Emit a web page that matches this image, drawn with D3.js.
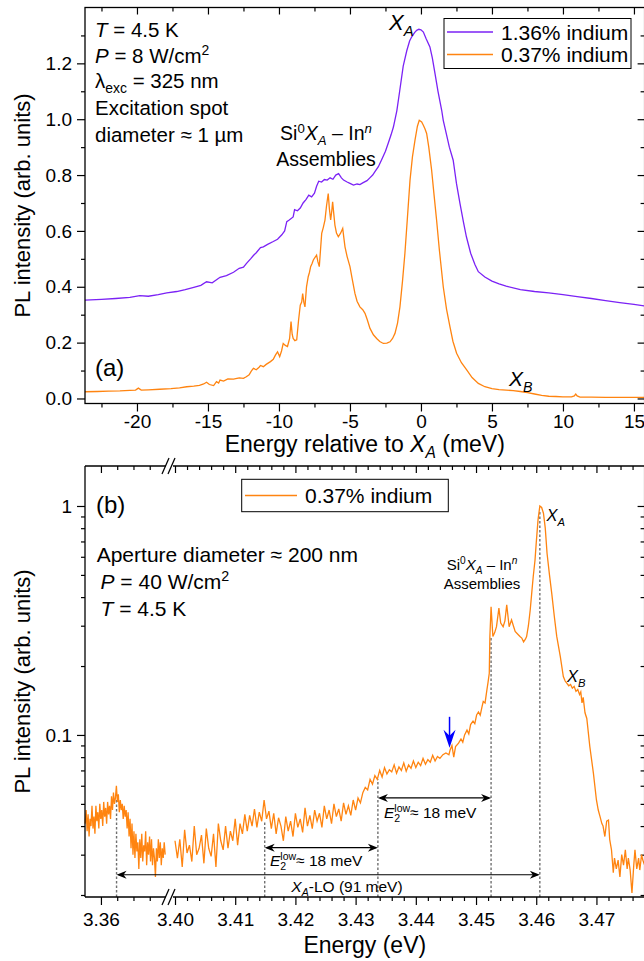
<!DOCTYPE html>
<html>
<head>
<meta charset="utf-8">
<script src="https://cdn.jsdelivr.net/npm/d3@7"></script>
<style>
  body { margin: 0; background: #fff; }
  svg { font-family: "Liberation Sans", Arial, Helvetica, sans-serif; }
</style>
</head>
<body>
<div id="chart"></div>
<script>

// ---- panel (a): [energy relative to X_A (meV), PL intensity] ----
var specA136 = [[-23.66,.352],[-22.5,.355],[-21.5,.358],[-20.5,.362],[-19.8,.368],[-19.2,.366],[-18.5,.372],[-17.9,.378],
  [-17.2,.383],[-16.6,.390],[-16.0,.398],[-15.5,.405],[-15.1,.418],[-14.7,.414],[-14.15,.434],[-13.7,.440],[-13.2,.452],
  [-12.8,.466],[-12.5,.470],[-12.3,.483],[-12.0,.500],[-11.8,.512],[-11.6,.522],[-11.3,.540],[-11.1,.543],[-10.8,.552],
  [-10.4,.562],[-10.1,.570],[-9.8,.586],[-9.6,.600],[-9.45,.633],[-9.3,.638],[-9.0,.650],[-8.9,.676],[-8.7,.672],
  [-8.5,.682],[-8.3,.700],[-8.1,.712],[-7.9,.728],[-7.7,.722],[-7.5,.735],[-7.35,.760],[-7.2,.778],[-7.0,.775],
  [-6.8,.784],[-6.6,.782],[-6.4,.790],[-6.2,.785],[-6.0,.800],[-5.8,.805],[-5.6,.790],[-5.45,.782],[-5.2,.775],
  [-5.0,.770],[-4.75,.764],[-4.5,.768],[-4.3,.766],[-4.1,.772],[-3.8,.780],[-3.6,.790],[-3.4,.800],[-3.24,.812],
  [-3.0,.830],[-2.77,.855],[-2.5,.885],[-2.3,.915],[-2.1,.945],[-1.94,.972],[-1.7,1.03],[-1.5,1.10],[-1.25,1.19],
  [-1.0,1.245],[-0.8,1.28],[-0.65,1.295],[-0.45,1.31],[-0.3,1.318],[-0.15,1.322],[0.0,1.32],[0.17,1.312],[0.35,1.29],
  [0.63,1.259],[0.8,1.22],[0.99,1.163],[1.2,1.10],[1.46,1.032],[1.57,.996],[1.8,.945],[2.0,.90],[2.27,.853],[2.5,.77],
  [2.75,.698],[3.0,.63],[3.2,.579],[3.5,.52],[3.8,.48],[4.04,.454],[4.5,.435],[5.0,.42],[5.5,.41],[6.0,.402],[7.0,.39],
  [8.0,.383],[9.0,.378],[10.0,.372],[11.0,.365],[12.0,.358],[13.0,.350],[14.0,.343],[15.0,.337],[15.8,.331]];

var specA037 = [[-23.66,.024],[-22.8,.025],[-22,.026],[-21.2,.027],[-20.5,.029],[-20.1,.030],[-19.9,.037],[-19.7,.030],
  [-19.2,.031],[-18.4,.033],[-17.6,.035],[-17,.038],[-16.5,.042],[-16,.044],[-15.6,.047],[-15.3,.052],[-15.1,.058],
  [-14.9,.050],[-14.6,.046],[-14.4,.060],[-14.25,.055],[-14.15,.066],[-13.9,.062],[-13.6,.070],[-13.2,.069],[-12.8,.074],
  [-12.5,.072],[-12.3,.078],[-12.1,.085],[-11.95,.098],[-11.8,.108],[-11.6,.103],[-11.4,.112],[-11.3,.118],[-11.1,.114],
  [-10.9,.122],[-10.6,.132],[-10.4,.140],[-10.25,.155],[-10.1,.167],[-9.95,.150],[-9.82,.170],[-9.7,.197],[-9.55,.190],
  [-9.4,.186],[-9.25,.215],[-9.15,.275],[-9.07,.230],[-9.0,.215],[-8.88,.207],[-8.75,.210],[-8.62,.280],[-8.5,.334],
  [-8.4,.345],[-8.33,.376],[-8.25,.345],[-8.17,.328],[-8.06,.400],[-7.94,.436],[-7.85,.452],[-7.77,.472],[-7.66,.484],
  [-7.58,.496],[-7.46,.505],[-7.35,.513],[-7.26,.490],[-7.16,.472],[-7.07,.535],[-6.99,.591],[-6.88,.612],[-6.76,.639],
  [-6.65,.690],[-6.53,.734],[-6.45,.680],[-6.36,.639],[-6.28,.672],[-6.22,.704],[-6.14,.662],[-6.06,.621],[-5.95,.592],
  [-5.82,.579],[-5.66,.592],[-5.51,.609],[-5.43,.575],[-5.35,.543],[-5.2,.508],[-5.0,.472],[-4.85,.430],[-4.65,.376],
  [-4.5,.348],[-4.3,.328],[-4.1,.318],[-3.94,.305],[-3.78,.282],[-3.59,.251],[-3.35,.228],[-3.12,.215],[-2.9,.204],
  [-2.65,.197],[-2.4,.198],[-2.18,.203],[-2.0,.215],[-1.83,.233],[-1.65,.270],[-1.48,.328],[-1.3,.420],[-1.13,.520],
  [-.95,.650],[-.77,.782],[-.6,.865],[-.42,.925],[-.25,.975],[-.12,.996],[.05,.990],[.16,.979],[.28,.966],[.4,.949],
  [.55,.900],[.75,.818],[.92,.730],[1.1,.639],[1.3,.530],[1.57,.400],[1.8,.320],[2.04,.257],[2.25,.205],[2.51,.162],
  [2.85,.128],[3.22,.102],[3.6,.075],[4.04,.054],[4.5,.042],[5,.035],[5.5,.032],[6,.030],[6.5,.028],[7,.025],[7.5,.021],
  [8,.016],[8.5,.011],[9,.008],[9.5,.007],[10,.006],[10.6,.006],[10.8,.009],[10.9,.016],[11.0,.009],[11.2,.005],
  [12,.005],[13,.004],[14,.004],[15,.004],[15.8,.004]];

// ---- panel (b): [energy (eV), PL intensity], before and after the axis break ----
var specBLeft = [[3.3503,.041],[3.3509,.047],[3.3515,.038],[3.3521,.045],[3.3527,.036],[3.3533,.043],[3.3539,.040],
  [3.3545,.049],[3.3551,.039],[3.3557,.044],[3.3563,.037],[3.3569,.049],[3.3575,.042],[3.3581,.046],[3.3587,.039],
  [3.3593,.050],[3.3599,.043],[3.3605,.047],[3.3611,.040],[3.3617,.051],[3.3623,.044],[3.3629,.048],[3.3635,.041],
  [3.3641,.051],[3.3647,.045],[3.3653,.049],[3.3659,.043],[3.3665,.054],[3.3671,.047],[3.3677,.056],[3.3683,.050],
  [3.3689,.053],[3.3695,.060],[3.3701,.051],[3.3707,.055],[3.3713,.046],[3.3719,.052],[3.3725,.047],[3.3731,.050],
  [3.3737,.043],[3.3743,.049],[3.3749,.044],[3.3755,.047],[3.3761,.039],[3.3767,.046],[3.3773,.036],[3.3779,.043],
  [3.3785,.032],[3.3791,.041],[3.3797,.030],[3.3803,.038],[3.3809,.029],[3.3815,.037],[3.3821,.031],[3.3827,.034],
  [3.3833,.026],[3.3839,.035],[3.3845,.029],[3.3851,.037],[3.3857,.028],[3.3863,.033],[3.3869,.031],[3.3875,.038],
  [3.3881,.027],[3.3887,.034],[3.3893,.030],[3.3899,.036],[3.3905,.028],[3.3911,.035],[3.3917,.027],[3.3923,.032],
  [3.3929,.029],[3.3935,.024],[3.3941,.032],[3.3947,.028],[3.3953,.035],[3.3959,.029],[3.3965,.034],[3.3971,.027],
  [3.3977,.032],[3.3983,.029],[3.3989,.034],[3.3995,.030]];

var specBRight = [[3.4000,.0345],[3.4004,.0290],[3.4008,.0350],[3.4012,.0265],[3.4016,.0385],[3.4020,.0305],
  [3.4024,.0330],[3.4028,.0280],[3.4032,.0400],[3.4036,.0300],[3.4040,.0320],[3.4044,.0365],[3.4048,.0275],
  [3.4052,.0390],[3.4056,.0320],[3.4060,.0295],[3.4064,.0370],[3.4068,.0265],[3.4072,.0410],[3.4076,.0345],
  [3.4080,.0315],[3.4084,.0400],[3.4088,.0320],[3.4092,.0380],[3.4096,.0345],[3.4100,.0430],[3.4104,.0330],
  [3.4108,.0410],[3.4112,.0370],[3.4116,.0450],[3.4120,.0380],[3.4124,.0445],[3.4128,.0400],[3.4132,.0475],
  [3.4136,.0395],[3.4140,.0460],[3.4144,.0420],[3.4148,.0520],[3.4152,.0430],[3.4156,.0465],[3.4160,.0390],
  [3.4164,.0455],[3.4168,.0370],[3.4172,.0435],[3.4176,.0400],[3.4180,.0345],[3.4184,.0440],[3.4188,.0380],
  [3.4192,.0420],[3.4196,.0360],[3.4200,.0455],[3.4204,.0395],[3.4208,.0430],[3.4212,.0375],[3.4216,.0480],
  [3.4220,.0400],[3.4224,.0445],[3.4228,.0390],[3.4232,.0470],[3.4236,.0420],[3.4240,.0455],[3.4244,.0395],
  [3.4248,.0490],[3.4252,.0430],[3.4256,.0470],[3.4260,.0410],[3.4264,.0500],[3.4268,.0440],[3.4272,.0475],
  [3.4276,.0420],[3.4280,.0505],[3.4284,.0450],[3.4288,.0490],[3.4292,.0445],[3.4296,.0520],[3.4300,.0470],
  [3.4304,.0530],[3.4308,.0505],[3.4312,.0560],[3.4316,.0590],[3.4320,.0575],[3.4324,.0640],[3.4328,.0610],
  [3.4332,.0665],[3.4336,.0640],[3.4340,.0700],[3.4344,.0655],[3.4348,.0720],[3.4352,.0675],[3.4356,.0705],
  [3.4360,.0690],[3.4364,.0740],[3.4368,.0680],[3.4372,.0725],[3.4376,.0700],[3.4380,.0755],[3.4384,.0695],
  [3.4388,.0740],[3.4392,.0715],[3.4396,.0770],[3.4400,.0720],[3.4404,.0760],[3.4408,.0735],[3.4412,.0790],
  [3.4416,.0745],[3.4420,.0780],[3.4424,.0760],[3.4428,.0815],[3.4432,.0770],[3.4436,.0805],[3.4440,.0790],
  [3.4445,.0820],[3.4450,.0835],[3.4455,.0820],[3.4457,.0860],[3.4460,.0900],[3.4463,.0800],[3.4466,.0890],
  [3.4471,.0921],[3.4475,.0960],[3.4478,.0930],[3.4481,.1000],[3.4485,.1050],[3.4488,.1010],[3.4491,.1110],
  [3.4495,.1150],[3.4498,.1120],[3.4501,.1223],[3.4504,.1260],[3.4507,.1220],[3.4510,.1330],[3.4512,.1400],
  [3.4515,.1380],[3.4518,.1570],[3.4520,.1700],[3.4522,.1860],[3.4523,.2690],[3.4525,.3630],[3.4528,.2690],
  [3.4531,.2800],[3.4534,.2970],[3.4538,.3580],[3.4541,.3080],[3.4545,.2970],[3.4548,.3150],[3.4551,.3700],
  [3.4555,.2970],[3.4559,.3180],[3.4562,.3000],[3.4565,.2830],[3.4569,.2760],[3.4573,.2690],[3.4576,.2650],
  [3.4579,.2550],[3.4582,.2620],[3.4584,.2690],[3.4587,.3000],[3.4590,.3515],[3.4593,.4300],[3.4595,.4910],
  [3.4598,.5810],[3.4600,.6900],[3.4603,.8700],[3.4606,1.000],[3.4609,.985],[3.4612,.930],[3.4615,.800],[3.4618,.620],
  [3.4622,.500],[3.4626,.410],[3.4630,.330],[3.4634,.270],[3.4640,.220],[3.4645,.180],[3.4648,.172],[3.4651,.168],
  [3.4654,.164],[3.4657,.166],[3.4660,.160],[3.4663,.163],[3.4666,.155],[3.4669,.158],[3.4672,.150],[3.4674,.154],
  [3.4676,.138],[3.4678,.146],[3.4681,.125],[3.4684,.118],[3.4689,.089],[3.4695,.068],[3.4700,.052],[3.4703,.047],
  [3.4706,.044],[3.4709,.041],[3.4711,.040],[3.4714,.036],[3.4717,.042],[3.4720,.0425],[3.4722,.035],[3.4725,.0315],
  [3.4728,.025],[3.4730,.029],[3.4733,.026],[3.4736,.0284],[3.4739,.024],[3.4742,.030],[3.4745,.027],[3.4748,.0315],
  [3.4751,.026],[3.4753,.029],[3.4756,.0257],[3.4759,.0204],[3.4762,.027],[3.4764,.0315],[3.4767,.026],[3.4770,.029],
  [3.4772,.0257],[3.4775,.030],[3.4777,.0284],[3.4780,.027]];

// dotted markers in (b): energy and the intensity where each line stops
var markE = [3.3696, 3.4149, 3.4337, 3.4525, 3.4606];
var markTop = [0.052, 0.042, 0.064, 0.27, 0.95];
// double arrows in (b): [from, to, intensity level]
var spans = [[3.3696, 3.4606, 0.0245], [3.4149, 3.4337, 0.0322], [3.4337, 3.4525, 0.0531]];

var legendA = ["1.36% indium", "0.37% indium"];
var legendB = ["0.37% indium"];
var ticksAx = [-20, -15, -10, -5, 0, 5, 10, 15];
var minorAx = [-22.5, -17.5, -12.5, -7.5, -2.5, 2.5, 7.5, 12.5];
var ticksAy = [0, 0.2, 0.4, 0.6, 0.8, 1.0, 1.2];
var minorAy = [0.1, 0.3, 0.5, 0.7, 0.9, 1.1, 1.3];
var ticksBxL = [3.36], minorBxL = [3.37, 3.38, 3.39];
var ticksBxR = [3.40, 3.41, 3.42, 3.43, 3.44, 3.45, 3.46, 3.47];
var ticksBy = [0.1, 1];
var minorBy = [0.02,0.03,0.04,0.05,0.06,0.07,0.08,0.09,0.2,0.3,0.4,0.5,0.6,0.7,0.8,0.9];

var purple = "#7b22f5", orange = "#ff8410";

var W = 644, H = 961;
var svg = d3.select("#chart").append("svg").attr("width", W).attr("height", H);

// ---- scales ----
var xA = d3.scaleLinear().domain([-23.66, 15.75]).range([85, 644.6]);
var yA = d3.scaleLinear().domain([-0.018, 1.4]).range([403.5, 7.5]);
var xL = d3.scaleLinear().domain([3.3502, 3.40]).range([85, 166]);
var xR = d3.scaleLinear().domain([3.40, 3.478]).range([175, 644.6]);
var yB = d3.scaleLog().domain([0.0196, 1.495]).range([897, 466]);
function xb(e) { return e < 3.40 ? xL(e) : xR(e); }

function axis(gen, scale, tr, values, size, fmt, pad) {
    var a = gen(scale).tickValues(values).tickSizeInner(size).tickSizeOuter(0)
        .tickPadding(pad || 4).tickFormat(fmt || function() { return ""; });
    var g = svg.append("g").attr("transform", tr).call(a);
    g.select(".domain").remove();
    g.attr("font-size", 19).attr("font-family", null);
    g.selectAll("line").attr("stroke", "#000").attr("stroke-width", 1.2);
    g.selectAll("text").attr("fill", "#000");
    return g;
}

function rich(x, y, size, parts, anchor) {
    var t = svg.append("text").attr("x", x).attr("y", y)
        .attr("font-size", size).attr("text-anchor", anchor || "start");
    var shift = 0;
    parts.forEach(function(p) {
        var st = p[1] || "", s = 0, fs = size;
        if (st.indexOf("b") >= 0) { s = size * 0.28; fs = size * 0.68; }
        if (st.indexOf("p") >= 0) { s = -size * 0.38; fs = size * 0.68; }
        var sp = t.append("tspan").attr("dy", s - shift).attr("font-size", fs).text(p[0]);
        if (st.indexOf("i") >= 0) sp.attr("font-style", "italic");
        if (p[2]) sp.attr("dx", p[2]);
        shift = s;
    });
    return t;
}

var str = function(d) { return String(d); };
var minorBxR = d3.range(3.402, 3.478, 0.002).filter(function(v) {
    return Math.abs(v * 100 - Math.round(v * 100)) > 0.05; });

// ================= panel (a) =================
axis(d3.axisBottom, xA, "translate(0,403.5)", ticksAx, 8, str, 3);
axis(d3.axisBottom, xA, "translate(0,403.5)", minorAx, 4);
axis(d3.axisTop, xA, "translate(0,7.5)", ticksAx, -7);
axis(d3.axisTop, xA, "translate(0,7.5)", minorAx, -4);
axis(d3.axisLeft, yA, "translate(85,0)", ticksAy, 8, function(d) { return d.toFixed(1); }, 5);
axis(d3.axisLeft, yA, "translate(85,0)", minorAy, 4);
axis(d3.axisRight, yA, "translate(644.6,0)", ticksAy, -7);
axis(d3.axisRight, yA, "translate(644.6,0)", minorAy, -4);

var lineA = d3.line().x(function(d) { return xA(d[0]); }).y(function(d) { return yA(d[1]); });
svg.append("path").datum(specA136).attr("d", lineA)
    .attr("fill", "none").attr("stroke", purple).attr("stroke-width", 1.3);
svg.append("path").datum(specA037).attr("d", lineA)
    .attr("fill", "none").attr("stroke", orange).attr("stroke-width", 1.3);

svg.append("rect").attr("x", 85).attr("y", 7.5).attr("width", 559.6).attr("height", 396)
    .attr("fill", "none").attr("stroke", "#000").attr("stroke-width", 1.3);

// legend (a)
svg.append("rect").attr("x", 444).attr("y", 18.5).attr("width", 187).attr("height", 50)
    .attr("fill", "#fff").attr("stroke", "#000").attr("stroke-width", 1);
legendA.forEach(function(name, i) {
    var ly = 32 + i * 22.5;
    svg.append("line").attr("x1", 447).attr("x2", 493).attr("y1", ly).attr("y2", ly)
        .attr("stroke", i === 0 ? purple : orange).attr("stroke-width", 1.3);
    svg.append("text").attr("x", 501).attr("y", ly + 7.5).attr("font-size", 21).text(name);
});

rich(95, 36.7, 20.5, [["T", "i"], [" = 4.5 K"]]);
rich(95, 62.7, 20.5, [["P", "i"], [" = 8 W/cm"], ["2", "p"]]);
rich(95, 87.5, 20.5, [["λ"], ["exc", "b"], [" = 325 nm"]]);
rich(95, 115, 20.5, [["Excitation spot"]]);
rich(95, 141.7, 20.5, [["diameter ≈ 1 µm"]]);
rich(326, 140, 19.5, [["Si"], ["0", "p"], ["X", "i"], ["A", "ib"], [" – In"], ["n", "ip"]], "middle");
rich(326, 166, 19.5, [["Assemblies"]], "middle");
rich(389, 30, 22, [["X", "i"], ["A", "ib"]]);
rich(509, 386, 21, [["X", "i"], ["B", "ib"]]);
svg.append("text").attr("x", 95).attr("y", 376).attr("font-size", 24).text("(a)");

rich(364.8, 452, 23, [["Energy relative to "], ["X", "i"], ["A", "ib"], [" (meV)"]], "middle");
svg.append("text").attr("transform", "translate(30,205.5) rotate(-90)")
    .attr("text-anchor", "middle").attr("font-size", 22).text("PL intensity (arb. units)");

// ================= panel (b) =================
axis(d3.axisBottom, xL, "translate(0,897)", ticksBxL, 8, function(d) { return d.toFixed(2); }, 7.5);
axis(d3.axisBottom, xL, "translate(0,897)", minorBxL, 4);
axis(d3.axisBottom, xR, "translate(0,897)", ticksBxR, 8, function(d) { return d.toFixed(2); }, 7.5);
axis(d3.axisBottom, xR, "translate(0,897)", minorBxR, 4);
axis(d3.axisTop, xL, "translate(0,466)", ticksBxL, -7);
axis(d3.axisTop, xL, "translate(0,466)", minorBxL, -4);
axis(d3.axisTop, xR, "translate(0,466)", ticksBxR, -7);
axis(d3.axisTop, xR, "translate(0,466)", minorBxR, -4);
axis(d3.axisLeft, yB, "translate(85,0)", ticksBy, 8, str, 5);
axis(d3.axisLeft, yB, "translate(85,0)", minorBy, 4);
axis(d3.axisRight, yB, "translate(644.6,0)", ticksBy, -7);
axis(d3.axisRight, yB, "translate(644.6,0)", minorBy, -4);

// dotted guide lines
markE.forEach(function(e, i) {
    svg.append("line").attr("x1", xb(e)).attr("x2", xb(e)).attr("y1", 897).attr("y2", yB(markTop[i]))
        .attr("stroke", "#707070").attr("stroke-width", 1.4).attr("stroke-dasharray", "2.5,2");
});

var lineBL = d3.line().x(function(d) { return xL(d[0]); }).y(function(d) { return yB(d[1]); });
var lineBR = d3.line().x(function(d) { return xR(d[0]); }).y(function(d) { return yB(d[1]); });
svg.append("path").datum(specBLeft).attr("d", lineBL)
    .attr("fill", "none").attr("stroke", orange).attr("stroke-width", 1.3);
svg.append("path").datum(specBRight).attr("d", lineBR)
    .attr("fill", "none").attr("stroke", orange).attr("stroke-width", 1.3);

// frame with axis break
var frame = [[85, 466, 85, 897], [85, 466, 166, 466], [173, 466, 644.6, 466],
             [85, 897, 166, 897], [173, 897, 644.6, 897], [644.6, 466, 644.6, 897]];
frame.forEach(function(f) {
    svg.append("line").attr("x1", f[0]).attr("y1", f[1]).attr("x2", f[2]).attr("y2", f[3])
        .attr("stroke", "#000").attr("stroke-width", 1.3);
});
[466, 897].forEach(function(yy) {
    [162, 168].forEach(function(x0) {
        svg.append("line").attr("x1", x0).attr("y1", yy + 8).attr("x2", x0 + 7).attr("y2", yy - 8)
            .attr("stroke", "#000").attr("stroke-width", 1.2);
    });
});

// double arrows
function head(x, y, dir) {
    return "M" + x + "," + y + "L" + (x - dir * 10) + "," + (y - 4) + "L" + (x - dir * 7) + "," + y +
        "L" + (x - dir * 10) + "," + (y + 4) + "Z";
}
spans.forEach(function(s) {
    var x1 = xb(s[0]), x2 = xb(s[1]), yy = yB(s[2]);
    svg.append("line").attr("x1", x1 + 2).attr("x2", x2 - 2).attr("y1", yy).attr("y2", yy)
        .attr("stroke", "#000").attr("stroke-width", 1.1);
    svg.append("path").attr("d", head(x1, yy, -1)).attr("fill", "#000");
    svg.append("path").attr("d", head(x2, yy, 1)).attr("fill", "#000");
});

// blue arrow marking the feature near 3.4456 eV
var bx = xR(3.4456), bTop = yB(0.12), bTip = yB(0.088);
svg.append("line").attr("x1", bx).attr("x2", bx).attr("y1", bTop).attr("y2", bTip - 8)
    .attr("stroke", "#0000ff").attr("stroke-width", 1.5);
svg.append("path").attr("fill", "#0000ff")
    .attr("d", "M" + bx + "," + bTip + "L" + (bx - 6) + "," + (bTip - 18) + "L" + bx + "," + (bTip - 12) +
        "L" + (bx + 6) + "," + (bTip - 18) + "Z");

// legend (b)
svg.append("rect").attr("x", 241.7).attr("y", 479.3).attr("width", 206.6).attr("height", 32.4)
    .attr("fill", "#fff").attr("stroke", "#000").attr("stroke-width", 1);
svg.append("line").attr("x1", 245).attr("x2", 297).attr("y1", 495.5).attr("y2", 495.5)
    .attr("stroke", orange).attr("stroke-width", 1.3);
svg.append("text").attr("x", 305).attr("y", 503).attr("font-size", 21).text(legendB[0]);

svg.append("text").attr("x", 96).attr("y", 513).attr("font-size", 24).text("(b)");
rich(96.7, 561.7, 21, [["Aperture diameter ≈ 200 nm"]]);
rich(100.5, 589, 21, [["P", "i"], [" = 40 W/cm"], ["2", "p"]]);
rich(100.5, 616, 21, [["T", "i"], [" = 4.5 K"]]);
rich(482, 570, 15, [["Si"], ["0", "p"], ["X", "i"], ["A", "ib"], [" – In"], ["n", "ip"]], "middle");
rich(482, 588.5, 15, [["Assemblies"]], "middle");
rich(546.5, 521, 16.5, [["X", "i"], ["A", "ib"]]);
rich(567, 682, 16.5, [["X", "i"], ["B", "ib"]]);
rich(384, 818, 15.5, [["E", "i"], ["2", "b"], ["low", "p", -5.9], ["≈ 18 meV"]]);
rich(270, 865.5, 15.5, [["E", "i"], ["2", "b"], ["low", "p", -5.9], ["≈ 18 meV"]]);
rich(347, 891.5, 15.5, [["X", "i"], ["A", "ib"], ["-LO (91 meV)"]], "middle");

rich(364.8, 953, 23, [["Energy (eV)"]], "middle");
svg.append("text").attr("transform", "translate(30,681.5) rotate(-90)")
    .attr("text-anchor", "middle").attr("font-size", 22).text("PL intensity (arb. units)");
</script>
</body>
</html>
